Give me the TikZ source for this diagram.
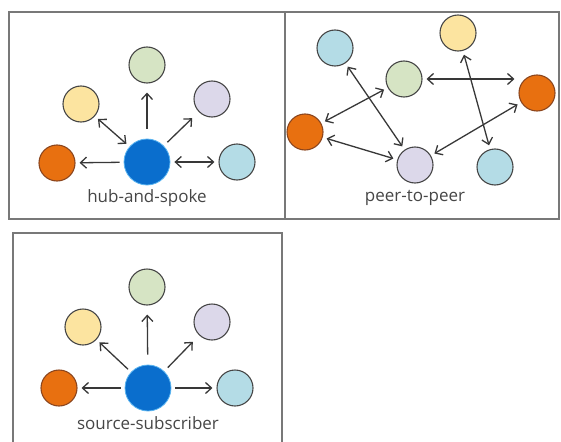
\documentclass[tikz,border=0pt]{standalone}
\usepackage{fontspec}
\setmainfont{Open Sans}
\usetikzlibrary{arrows.meta}
\definecolor{hubblue}{RGB}{10,110,205}
\definecolor{hubrim}{RGB}{90,180,240}
\definecolor{sage}{RGB}{214,228,196}
\definecolor{butter}{RGB}{252,228,160}
\definecolor{lilac}{RGB}{220,216,234}
\definecolor{tangerine}{RGB}{232,112,16}
\definecolor{rust}{RGB}{140,70,30}
\definecolor{sky}{RGB}{180,220,230}
\definecolor{frame}{RGB}{120,120,120}
\definecolor{ink}{RGB}{70,70,70}
\begin{document}
\begin{tikzpicture}[x=1pt, y=-1pt, >={Straight Barb[length=6pt,width=11pt]},
  peer/.style={circle, draw=ink, line width=1.1pt, minimum size=36pt, inner sep=0pt},
  hub/.style={circle, draw=hubrim, line width=0.8pt, fill=hubblue, minimum size=46pt, inner sep=0pt},
  link/.style={draw=ink!80!black, line width=1.3pt, shorten <=4pt, shorten >=4pt},
  panel/.style={draw=frame, line width=1.3pt},
  caption/.style={text=ink, font=\fontsize{17}{17}\selectfont}]
  \useasboundingbox (0,0) rectangle (561,441);
  % the three panels
  \draw[panel] (9,12) rectangle (285,219);
  \draw[panel] (285,12) rectangle (559,219);
  \draw[panel] (13,446) -- (13,233) -- (282,233) -- (282,446);
  % hub-and-spoke
  \node[hub] (hub1) at (147,162) {};
  \node[peer, fill=sage] (grn1) at (147,65) {};
  \node[peer, fill=butter] (yel1) at (81,104) {};
  \node[peer, fill=lilac] (pur1) at (212,99) {};
  \node[peer, fill=tangerine, draw=rust] (org1) at (57,163) {};
  \node[peer, fill=sky] (blu1) at (237,162) {};
  \node[caption] (cap1) at (147,198) {hub-and-spoke};
  \draw[link, ->, shorten <=10pt, shorten >=9pt] (hub1) -- (grn1);
  \draw[link, <->] (hub1) -- (yel1);
  \draw[link, ->, shorten <=5pt, shorten >=9pt] (hub1) -- (pur1);
  \draw[link, ->] (hub1) -- (org1);
  \draw[link, <->] (hub1) -- (blu1);
  % peer-to-peer
  \node[peer, fill=sky] (tlblu) at (335,48) {};
  \node[peer, fill=butter] (topyel) at (458,33) {};
  \node[peer, fill=sage] (midgrn) at (404,79) {};
  \node[peer, fill=tangerine, draw=rust] (rorg) at (537,93) {};
  \node[peer, fill=tangerine, draw=rust] (lorg) at (305,132) {};
  \node[peer, fill=lilac] (botpur) at (415,165) {};
  \node[peer, fill=sky] (brblu) at (495,167) {};
  \node[caption] (cap2) at (415,198) {peer-to-peer};
  \draw[link, <->] (midgrn.east) -- (midgrn -| rorg.west);
  \draw[link, <->] (midgrn) -- (lorg);
  \draw[link, <->] (lorg) -- (botpur);
  \draw[link, <->] (botpur) -- (rorg);
  \draw[link, <->] (tlblu) -- (botpur);
  \draw[link, <->] (topyel) -- (brblu);
  % source-subscriber
  \node[hub] (hub3) at (148,388) {};
  \node[peer, fill=sage] (grn3) at (147,287) {};
  \node[peer, fill=butter] (yel3) at (83,327) {};
  \node[peer, fill=lilac] (pur3) at (212,322) {};
  \node[peer, fill=tangerine, draw=rust] (org3) at (59,388) {};
  \node[peer, fill=sky] (blu3) at (235,388) {};
  \node[caption] (cap3) at (148,423) {source-subscriber};
  \draw[link, ->, shorten <=10pt, shorten >=9pt] (hub3) -- (grn3);
  \draw[link, ->] (hub3) -- (yel3);
  \draw[link, ->, shorten <=5pt, shorten >=9pt] (hub3) -- (pur3);
  \draw[link, ->] (hub3) -- (org3);
  \draw[link, ->] (hub3) -- (blu3);
\end{tikzpicture}
\end{document}
